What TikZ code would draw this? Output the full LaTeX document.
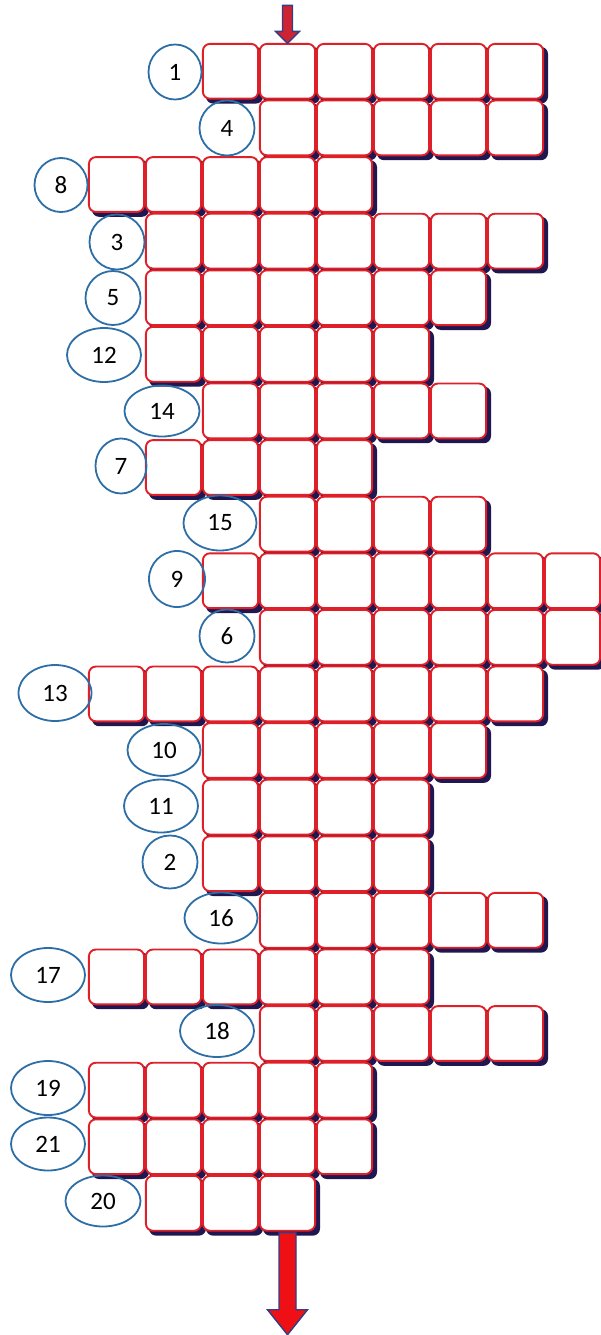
\documentclass[tikz,border=0pt]{standalone}
\usepackage{fontspec}
\setmainfont{Carlito}
\usetikzlibrary{shapes.geometric,calc}
\definecolor{cellred}{RGB}{224,32,40}
\definecolor{shadownavy}{RGB}{32,22,80}
\definecolor{ringblue}{RGB}{46,110,166}
\definecolor{arrowred}{RGB}{238,16,20}
\definecolor{toparrowred}{RGB}{205,35,50}
\definecolor{arrowedge}{RGB}{50,62,135}
\begin{document}
\begin{tikzpicture}[x=1pt,y=-1pt,
  cellbox/.style={rectangle, draw=cellred, line width=1.9pt, fill=white,
    rounded corners=7pt, minimum width=55.2pt, minimum height=54.8pt,
    inner sep=0pt, outer sep=0pt},
  shadowbox/.style={rectangle, fill=shadownavy, rounded corners=7pt,
    minimum width=57pt, minimum height=56.6pt, inner sep=0pt, outer sep=0pt},
  ring/.style={ellipse, draw=ringblue, line width=1.8pt, inner sep=0pt,
    font=\fontsize{25}{27}\selectfont},
  arrowshape/.style={line width=1.4pt, draw=arrowedge, line join=miter}
  ]
\useasboundingbox (0,0) rectangle (601,1335);
% shadows
\foreach \r/\a/\n in {0/2/6,1/3/5,2/0/5,3/1/7,4/1/6,5/1/5,6/2/5,7/1/4,8/3/4,9/2/7,10/3/6,11/0/8,12/2/5,13/2/4,14/2/4,15/3/5,16/0/6,17/3/5,18/0/5,19/0/5,20/1/3}{
  \foreach \k in {1,...,\n}{
    \pgfmathtruncatemacro\c{\a+\k-1}
    \node[shadowbox] (s-\r-\c) at ({88+57*\c+28.5+4},{43+56.6*\r+28.3+4}) {};
  }
}
% cells
\foreach \r/\a/\n in {0/2/6,1/3/5,2/0/5,3/1/7,4/1/6,5/1/5,6/2/5,7/1/4,8/3/4,9/2/7,10/3/6,11/0/8,12/2/5,13/2/4,14/2/4,15/3/5,16/0/6,17/3/5,18/0/5,19/0/5,20/1/3}{
  \foreach \k in {1,...,\n}{
    \pgfmathtruncatemacro\c{\a+\k-1}
    \node[cellbox] (c-\r-\c) at ({88+57*\c+28.5},{43+56.6*\r+28.3}) {};
  }
}
% clue numbers
\foreach \lab/\x/\y/\w/\h in {1/175/72/53/55, 4/227/128/55/55, 8/61/185/53/54, 3/117/242/55/55,
  5/113/298/55/54, 12/104/355/74/54, 14/162/411/75/51, 7/121/466/51/55,
  15/220/523/73/55, 9/177/579/56/56, 6/227/636/55/53, 13/55/693/73/56,
  10/164/750/73/52, 11/161/806/74/53, 2/170/862/55/53, 16/221/918/73/51,
  17/48/975/74/54, 18/217/1031/74/52, 19/48/1088/74/54, 21/48/1144/74/53,
  20/103/1201/75/51}{
  \node[ring, minimum width=\w pt, minimum height=\h pt] (n\lab) at (\x,\y) {\lab};
}
% top arrow into column
\coordinate (toptip) at ($(c-0-3.north)+(0,-0.5)$);
\filldraw[arrowshape, fill=toparrowred]
  ($(toptip)+(-5,-38)$) -- ($(toptip)+(5,-38)$) -- ($(toptip)+(5,-12)$) --
  ($(toptip)+(12,-12)$) -- (toptip) -- ($(toptip)+(-12,-12)$) --
  ($(toptip)+(-5,-12)$) -- cycle;
% bottom arrow out of column
\coordinate (botstart) at ($(c-20-3.south)+(0,2)$);
\filldraw[arrowshape, fill=arrowred]
  ($(botstart)+(-8.5,0)$) -- ($(botstart)+(8.5,0)$) -- ($(botstart)+(8.5,77)$) --
  ($(botstart)+(20,77)$) -- ($(botstart)+(0,102)$) -- ($(botstart)+(-20,77)$) --
  ($(botstart)+(-8.5,77)$) -- cycle;
\end{tikzpicture}
\end{document}
